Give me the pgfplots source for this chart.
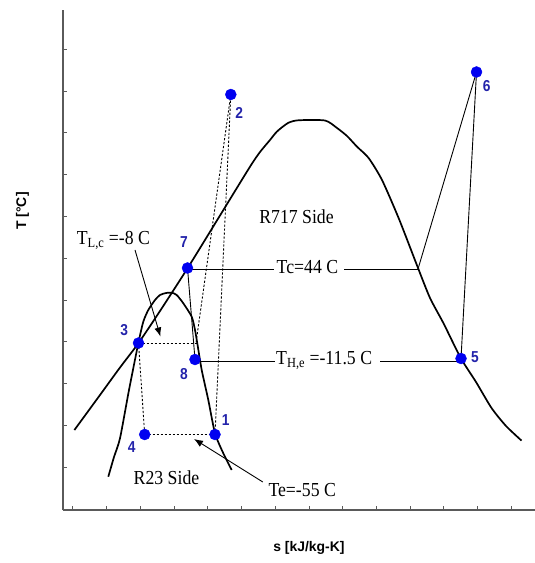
\documentclass[border=0pt]{standalone}
\usepackage{pgfplots}
\pgfplotsset{compat=1.18}
\usepackage{fontspec}
\setmainfont{Liberation Serif}
\setsansfont{Liberation Sans}
\usetikzlibrary{arrows.meta}
\definecolor{ptblue}{RGB}{0,0,240}
\definecolor{lblblue}{RGB}{35,35,170}
\definecolor{axgray}{RGB}{90,90,90}
\definecolor{thin}{RGB}{50,50,50}
\newcommand{\anno}{\fontsize{17.8}{20}\selectfont}
\newcommand{\plbl}{\sffamily\bfseries\fontsize{13.8}{15}\selectfont}
\begin{document}
\begin{tikzpicture}[x=1bp,y=1bp]
\useasboundingbox (0,0) rectangle (535,563);
\begin{axis}[
  at={(63,53)}, anchor=south west,
  width=472bp, height=500bp, scale only axis,
  xmin=63, xmax=535, ymin=0, ymax=500,
  axis lines*=left,
  axis line style={axgray, line width=1.2bp},
  tick align=inside,
  major tick length=4bp,
  tick style={axgray, line width=0.8bp},
  xtick={72.7,106.4,140.2,173.9,207.7,241.4,275.1,308.9,342.6,376.4,410.1,443.8,477.6,511.3},
  ytick={42.7,84.5,126.3,168.1,209.9,251.7,293.5,335.3,377.1,418.9,460.7},
  xticklabels={}, yticklabels={},
  xlabel={s [kJ/kg-K]}, ylabel={T [°C]},
  label style={font=\sffamily\bfseries\fontsize{14}{16}\selectfont},
  xlabel style={at={(axis description cs:0.521,-0.076)},anchor=center},
  ylabel style={at={(axis description cs:-0.086,0.598)},anchor=center},
  clip=false,
]
% R717 saturation dome
\addplot[black, line width=1.7bp, line join=round, smooth, tension=0.4] coordinates {
(74.4,80) (100,115) (120,142.5) (138.2,166.5) (160,199) (187.7,242) (220,294.5)
(250,343.3) (260,358) (270,370) (277,378.5) (288,387) (298.3,389.7) (325,389.5)
(337,382) (347,374) (357,363.3) (368.6,352) (382,330) (399,291) (418,242)
(430,212) (443.7,186.3) (460.7,152) (476,128) (491.5,102) (506,84) (521.5,69.4)};
% R23 saturation dome
\addplot[black, line width=1.7bp, line join=round, smooth, tension=0.4] coordinates {
(108.3,33.3) (114,53) (120,71.7) (129,120) (138.3,166.7) (143.3,188.3) (148.3,200)
(155,210) (160,215) (166,217) (171.7,217.3) (176.7,215) (183.3,206.7) (191.7,193.3)
(195,180) (197.3,166.7) (201.7,140) (208.3,110) (215,76.7) (223.3,56.7) (231.7,40)};
% dotted R23 cycle
\addplot[thin, line width=0.9bp, dash pattern=on 2.2bp off 1.8bp] coordinates {(144.7,75.5) (215,75.5)};
\addplot[thin, line width=0.9bp, dash pattern=on 2.2bp off 1.8bp] coordinates {(138.5,167) (197,167)};
\addplot[thin, line width=0.9bp, dash pattern=on 2.2bp off 1.8bp] coordinates {(138.5,167) (144.7,75.5)};
\addplot[thin, line width=0.9bp, dash pattern=on 2.2bp off 1.8bp] coordinates {(215,75.5) (230.8,415.5)};
\addplot[thin, line width=0.9bp, dash pattern=on 2.2bp off 1.8bp] coordinates {(230.8,415.5) (196,167)};
% solid R717 cycle lines
\addplot[thin, line width=0.9bp] coordinates {(187.5,242) (195,150.5)};
\addplot[thin, line width=0.9bp] coordinates {(461,151.5) (476.5,438)};
\addplot[thin, line width=0.9bp] coordinates {(476.5,438) (418,241)};
\addplot[thin, line width=0.9bp] coordinates {(187.5,241) (274,241)};
\addplot[thin, line width=0.9bp] coordinates {(344,241) (418,241)};
\addplot[thin, line width=0.9bp] coordinates {(195,149) (275,149)};
\addplot[thin, line width=0.9bp] coordinates {(380,149) (461,149)};
% arrows
\addplot[thin, line width=0.9bp, -{Latex[length=9bp,width=7bp]}] coordinates {(135,260) (160.4,173.5)};
\addplot[thin, line width=0.9bp, -{Latex[length=9bp,width=7bp]}] coordinates {(262.8,28) (194,71)};
% state points
\addplot[only marks, mark=*, mark size=5.5bp, ptblue] coordinates {
(215,75.5) (230.8,415.5) (138.5,167) (144.7,75.5) (461,151.5) (476.5,438) (187.5,242) (195,150.5)};
% point labels
\node[font=\plbl, text=lblblue, inner sep=0pt, yscale=1.15] at (axis cs:225.7,90) {1};
\node[font=\plbl, text=lblblue, inner sep=0pt, yscale=1.15] at (axis cs:239.3,397.3) {2};
\node[font=\plbl, text=lblblue, inner sep=0pt, yscale=1.15] at (axis cs:124.3,180) {3};
\node[font=\plbl, text=lblblue, inner sep=0pt, yscale=1.15] at (axis cs:131.7,63.3) {4};
\node[font=\plbl, text=lblblue, inner sep=0pt, yscale=1.15] at (axis cs:475,153.3) {5};
\node[font=\plbl, text=lblblue, inner sep=0pt, yscale=1.15] at (axis cs:486.7,424) {6};
\node[font=\plbl, text=lblblue, inner sep=0pt, yscale=1.15] at (axis cs:184,268.3) {7};
\node[font=\plbl, text=lblblue, inner sep=0pt, yscale=1.15] at (axis cs:184,136) {8};
% annotations
\node[font=\anno, inner sep=0pt, anchor=base west, yscale=1.12] at (axis cs:76.7,265) {T\textsubscript{L,c} =-8 C};
\node[font=\anno, inner sep=0pt, anchor=base, yscale=1.12] at (axis cs:296.5,286.7) {R717 Side};
\node[font=\anno, inner sep=0pt, anchor=base west, yscale=1.12] at (axis cs:276.5,236.7) {Tc=44 C};
\node[font=\anno, inner sep=0pt, anchor=base west, yscale=1.12] at (axis cs:276,145) {T\textsubscript{H,e} =-11.5 C};
\node[font=\anno, inner sep=0pt, anchor=base west, yscale=1.12] at (axis cs:268.3,13.3) {Te=-55 C};
\node[font=\anno, inner sep=0pt, anchor=base, yscale=1.12] at (axis cs:166.5,25) {R23 Side};
\end{axis}
\end{tikzpicture}
\end{document}
